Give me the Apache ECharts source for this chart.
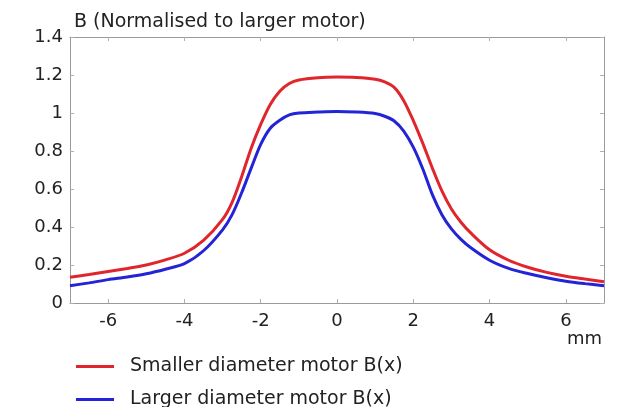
<!DOCTYPE html>
<html>
<head>
<meta charset="utf-8">
<style>
  html, body { margin: 0; padding: 0; background: #ffffff; }
  #chart { width: 629px; height: 407px; }
</style>
<script src="https://cdn.jsdelivr.net/npm/echarts@6/dist/echarts.min.js"></script>
</head>
<body>
<div id="chart"></div>
<script>
// Position along the axis (mm)
const positions = [-7, -6.5, -6, -5.5, -5, -4.5, -4, -3.5, -3, -2.75, -2.5, -2.25, -2, -1.75, -1.5, -1.25, -1, -0.5,
                   0, 0.5, 1, 1.25, 1.5, 1.75, 2, 2.25, 2.5, 2.75, 3, 3.25, 3.5, 4, 4.5, 5, 5.5, 6, 6.5, 7];

// Flux density, normalised to the larger motor's peak
const smallerMotorB = [0.135, 0.150, 0.166, 0.182, 0.200, 0.227, 0.262, 0.330, 0.440, 0.530, 0.665, 0.815, 0.940, 1.045, 1.115, 1.155, 1.174, 1.186,
                       1.189, 1.187, 1.178, 1.164, 1.135, 1.065, 0.960, 0.840, 0.710, 0.590, 0.495, 0.425, 0.370, 0.280, 0.225, 0.188, 0.161, 0.141, 0.126, 0.112];
const largerMotorB  = [0.091, 0.106, 0.123, 0.137, 0.154, 0.178, 0.207, 0.275, 0.385, 0.465, 0.580, 0.710, 0.835, 0.920, 0.962, 0.990, 1.000, 1.005,
                       1.008, 1.005, 0.997, 0.983, 0.958, 0.905, 0.820, 0.705, 0.570, 0.465, 0.390, 0.335, 0.292, 0.225, 0.182, 0.155, 0.133, 0.115, 0.102, 0.091];

const seriesNames = ['Smaller diameter motor B(x)', 'Larger diameter motor B(x)'];
const seriesColors = ['#e0262c', '#2424d6'];
const xTickValues = [-6, -4, -2, 0, 2, 4, 6];
const yTickValues = [0, 0.2, 0.4, 0.6, 0.8, 1, 1.2, 1.4];

const FONT = 'DejaVu Sans';
const TEXT = '#222222';
const AXIS_GREY = '#9a9a9a';

const toPairs = vals => positions.map((x, i) => [x, vals[i]]);

const chart = echarts.init(document.getElementById('chart'), null, { renderer: 'canvas' });

const axisLine = { show: true, onZero: false, lineStyle: { color: AXIS_GREY, width: 1 } };
const xBase = {
  type: 'value', min: -7, max: 7,
  axisLine,
  axisTick: { show: true, inside: true, length: 4, customValues: xTickValues, lineStyle: { color: '#b0b0b0' } },
  splitLine: { show: false }
};
const yBase = {
  type: 'value', min: 0, max: 1.4,
  axisLine,
  axisTick: { show: true, inside: true, length: 4, customValues: yTickValues, lineStyle: { color: '#b0b0b0' } },
  splitLine: { show: false }
};

// One legend block per series so the two rows stack with a fixed spacing
const legendRow = (name, top) => ({
  orient: 'vertical',
  left: 71, top,
  icon: 'rect',
  itemWidth: 38, itemHeight: 3,
  data: [name],
  textStyle: { fontFamily: FONT, fontSize: 19, color: TEXT, padding: [0, 0, 0, 11] }
});

chart.setOption({
  animation: false,
  backgroundColor: '#ffffff',
  title: {
    text: 'B (Normalised to larger motor)',
    left: 69, top: 8,
    textStyle: { fontFamily: FONT, fontSize: 19, fontWeight: 'normal', color: TEXT }
  },
  grid: { left: 70, right: 25, top: 37, bottom: 104, containLabel: false },
  xAxis: [
    Object.assign({}, xBase, {
      position: 'bottom',
      axisLabel: { show: true, customValues: xTickValues, margin: 9, fontFamily: FONT, fontSize: 18, color: TEXT }
    }),
    Object.assign({}, xBase, { position: 'top', axisLabel: { show: false } })
  ],
  yAxis: [
    Object.assign({}, yBase, {
      position: 'left',
      axisLabel: {
        show: true, customValues: yTickValues, margin: 7, fontFamily: FONT, fontSize: 18, color: TEXT,
        formatter: v => String(Math.round(v * 10) / 10)
      }
    }),
    Object.assign({}, yBase, { position: 'right', axisLabel: { show: false } })
  ],
  legend: [legendRow(seriesNames[0], 352), legendRow(seriesNames[1], 385)],
  graphic: [
    {
      type: 'text', left: 567, top: 330,
      style: { text: 'mm', fontFamily: FONT, fontSize: 18, fill: TEXT }
    }
  ],
  series: [
    {
      name: seriesNames[0], type: 'line', xAxisIndex: 0, yAxisIndex: 0,
      data: toPairs(smallerMotorB), smooth: 0.3, showSymbol: false,
      lineStyle: { color: seriesColors[0], width: 3 }, itemStyle: { color: seriesColors[0] }
    },
    {
      name: seriesNames[1], type: 'line', xAxisIndex: 0, yAxisIndex: 0,
      data: toPairs(largerMotorB), smooth: 0.3, showSymbol: false,
      lineStyle: { color: seriesColors[1], width: 3 }, itemStyle: { color: seriesColors[1] }
    }
  ]
});
</script>
</body>
</html>
